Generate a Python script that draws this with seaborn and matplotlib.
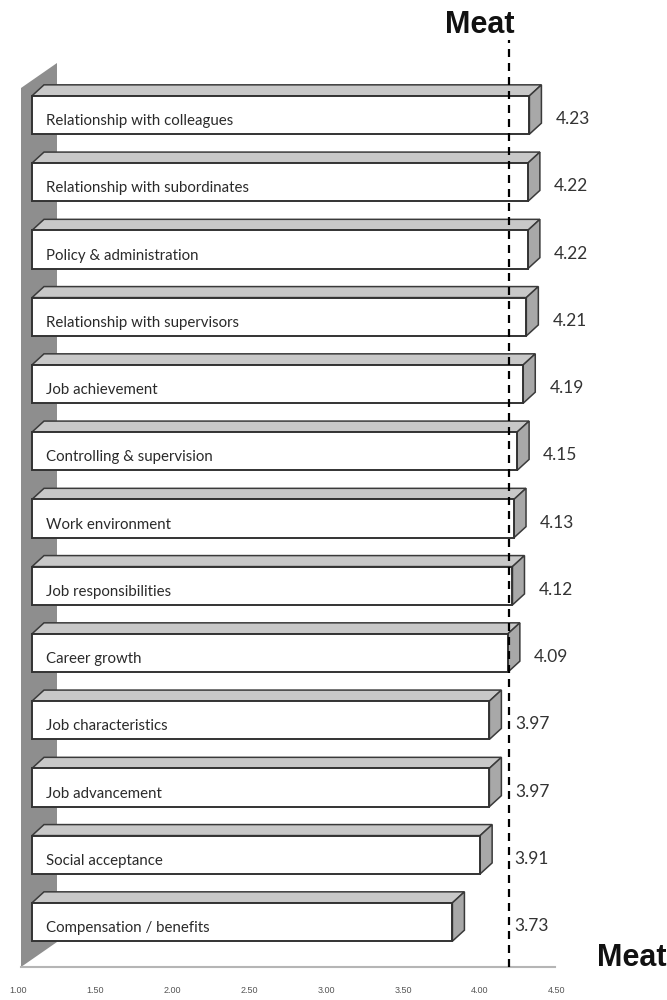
import matplotlib
matplotlib.use("Agg")
import matplotlib.pyplot as plt
import seaborn as sns
import numpy as np
from matplotlib.patches import Polygon
from matplotlib.transforms import ScaledTranslation

categories = [
    "Relationship with colleagues",
    "Relationship with subordinates",
    "Policy & administration",
    "Relationship with supervisors",
    "Job achievement",
    "Controlling & supervision",
    "Work environment",
    "Job responsibilities",
    "Career growth",
    "Job characteristics",
    "Job advancement",
    "Social acceptance",
    "Compensation / benefits",
]
values = [4.23, 4.22, 4.22, 4.21, 4.19, 4.15, 4.13, 4.12, 4.09, 3.97, 3.97, 3.91, 3.73]
value_labels = ["4.23", "4.22", "4.22", "4.21", "4.19", "4.15", "4.13", "4.12", "4.09",
                "3.97", "3.97", "3.91", "3.73"]
mean_value = 4.10
tick_values = [1.0, 1.5, 2.0, 2.5, 3.0, 3.5, 4.0, 4.5]
tick_labels = ["1.00", "1.50", "2.00", "2.50", "3.00", "3.50", "4.00", "4.50"]
title_text = "Meat"
axis_text = "Meat"
base = 1.0

sns.set_theme(style="white")
plt.rcParams["font.family"] = ["Lato", "DejaVu Sans"]

W, H, DPI = 667, 1000, 100
fig = plt.figure(figsize=(W / DPI, H / DPI), dpi=DPI)

# layout in pixels
px_per_unit_x = 154.0
base_px = 32.0
pitch_px = 67.25
first_center_px = 115.0
floor_px = 967.0

ax = fig.add_axes([0, 1 - floor_px / H, 1, floor_px / H])
xmin = base - base_px / px_per_unit_x
xmax = base + (W - base_px) / px_per_unit_x
ytop = -first_center_px / pitch_px
ybot = (floor_px - first_center_px) / pitch_px

sns.barplot(x=values, y=categories, orient="h", color="white", edgecolor="#333333",
            linewidth=1.4, width=0.57, ax=ax, zorder=3, saturation=1)
ax.set_xlim(xmin, xmax)
ax.set_ylim(ybot, ytop)

ddx = 12 / px_per_unit_x
ddy = 11 / pitch_px

# start bars at base and add 3D faces
for p in ax.patches:
    w = p.get_width()
    p.set_x(base)
    p.set_width(w - base)
    x0 = base
    x1 = w
    yt = p.get_y()
    yb = yt + p.get_height()
    top = Polygon([(x0, yt), (x1, yt), (x1 + ddx, yt - ddy), (x0 + ddx, yt - ddy)],
                  closed=True, facecolor="#c8c8c8", edgecolor="#3a3a3a", lw=1.1, zorder=2.9)
    side = Polygon([(x1, yt), (x1, yb), (x1 + ddx, yb - ddy), (x1 + ddx, yt - ddy)],
                   closed=True, facecolor="#a8a8a8", edgecolor="#3a3a3a", lw=1.1, zorder=2.9)
    ax.add_patch(top)
    ax.add_patch(side)

# left wall
wall_front = base - 11 / px_per_unit_x
wall_dx = 36 / px_per_unit_x
wall_dy = 25 / pitch_px
wall_top = ytop + 88 / pitch_px
wall = Polygon([(wall_front, ybot), (wall_front, wall_top),
                (wall_front + wall_dx, wall_top - wall_dy),
                (wall_front + wall_dx, ybot - wall_dy)],
               closed=True, facecolor="#8e8e8e", edgecolor="none", zorder=1)
ax.add_patch(wall)

# category labels inside bars and value labels
for i, (c, v) in enumerate(zip(categories, values)):
    ax.text(base + 14 / px_per_unit_x, i + 0.09, c, ha="left", va="center",
            fontsize=10.8, color="#2a2a2a", zorder=4)
    xl = max(v + 0.17, mean_value + 0.03)
    ax.text(xl, i + 0.06, value_labels[i], ha="left", va="center",
            fontsize=12.5, color="#333333", zorder=4)

# mean dashed line
ax.axvline(mean_value, ymin=0.0, ymax=(floor_px - 40) / floor_px, color="black",
           lw=1.6, ls=(0, (3.6, 2.7)), zorder=5)

# axes styling
for s in ["top", "right", "left"]:
    ax.spines[s].set_visible(False)
ax.spines["bottom"].set_color("#b5b5b5")
ax.spines["bottom"].set_linewidth(1.5)
ax.spines["bottom"].set_bounds(wall_front, base + (555 - base_px) / px_per_unit_x)
ax.set_yticks([])
ax.set_ylabel("")
ax.set_xticks(tick_values)
ax.set_xticklabels(tick_labels, fontsize=6.5, color="#555555", family="Liberation Sans")
ax.tick_params(axis="x", length=0, pad=14)
offset = ScaledTranslation(-14 / DPI, 0, fig.dpi_scale_trans)
for lab in ax.get_xticklabels():
    lab.set_transform(lab.get_transform() + offset)
ax.patch.set_alpha(0)

fig.text(480 / W, 1 - 25 / H, title_text, ha="center", va="center", fontsize=22,
         fontweight="bold", family="Liberation Sans", color="#111111")
fig.text(632 / W, 1 - 958 / H, axis_text, ha="center", va="center", fontsize=22,
         fontweight="bold", family="Liberation Sans", color="#111111")

fig.savefig("out.png", dpi=DPI)
